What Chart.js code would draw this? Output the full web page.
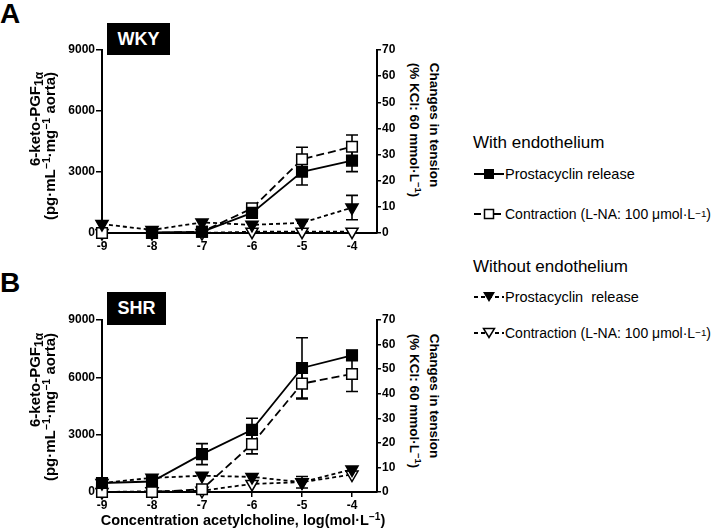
<!DOCTYPE html>
<html>
<head>
<meta charset="utf-8">
<script src="https://cdn.jsdelivr.net/npm/chart.js@4/dist/chart.umd.min.js"></script>
<style>
  body { margin: 0; background: #fff; width: 717px; height: 532px; position: relative; overflow: hidden;
         font-family: "Liberation Sans", Arial, sans-serif; color: #000; }
  canvas { position: absolute; }
  .abs { position: absolute; white-space: nowrap; }
  .letter { font-size: 28px; font-weight: bold; }
  .tag { background: #000; color: #fff; font-weight: bold; font-size: 18px; text-align: center; }
  .ytitle { font-weight: bold; font-size: 15px; line-height: 15px; text-align: right;
            transform: translate(-50%, -50%) rotate(-90deg); }
  .ytitle sub { font-size: 0.8em; }
  .y2title { font-weight: bold; font-size: 13.5px; line-height: 20px; text-align: left;
             transform: translate(-50%, -50%) rotate(90deg); }
  .xtitle { font-weight: bold; font-size: 14.5px; transform: translate(-50%, -50%); }
  sup { font-size: 0.7em; vertical-align: 0.5em; line-height: 0; }
  sub { font-size: 0.7em; vertical-align: -0.25em; line-height: 0; }
  .lghead { font-size: 17px; transform: translateY(-50%); }
  .lgitem { font-size: 14.5px; transform: translateY(-50%); display: flex; align-items: center; }
  .lgitem.small { font-size: 14px; }
  .lgitem svg { margin-right: 1px; }
</style>
</head>
<body>

<div class="abs letter" style="left:0px; top:-2px;">A</div>
<div class="abs letter" style="left:0px; top:267px;">B</div>
<div class="abs tag" style="left:107px; top:23px; width:63px; height:32px; line-height:32px;">WKY</div>
<div class="abs tag" style="left:107px; top:292px; width:59px; height:33px; line-height:33px;">SHR</div>

<canvas id="chartA" width="402" height="226" style="left:0px; top:30px;"></canvas>
<canvas id="chartB" width="402" height="215" style="left:0px; top:300px;"></canvas>

<div class="abs ytitle" style="left:42px; top:146px;">6-keto-PGF<sub>1α</sub><br>(pg·mL<sup>−1</sup>·mg<sup>−1</sup> aorta)</div>
<div class="abs ytitle" style="left:42px; top:407px;">6-keto-PGF<sub>1α</sub><br>(pg·mL<sup>−1</sup>·mg<sup>−1</sup> aorta)</div>
<div class="abs y2title" style="left:424px; top:130px;">Changes in tension<br>(% KCl: 60 mmol·L<sup>−1</sup>)</div>
<div class="abs y2title" style="left:424px; top:401px;">Changes in tension<br>(% KCl: 60 mmol·L<sup>−1</sup>)</div>
<div class="abs xtitle" style="left:243px; top:520px;">Concentration acetylcholine, log(mol·L<sup>−1</sup>)</div>

<div class="abs lghead" style="left:473px; top:143px;">With endothelium</div>
<div class="abs lgitem" style="left:474px; top:174px;">
  <svg width="30" height="14"><line x1="0" y1="7" x2="30" y2="7" stroke="#000" stroke-width="2"/><rect x="10" y="2" width="10" height="10" fill="#000"/></svg>Prostacyclin release</div>
<div class="abs lgitem small" style="left:474px; top:214px;">
  <svg width="30" height="14"><line x1="0" y1="7" x2="30" y2="7" stroke="#000" stroke-width="2" stroke-dasharray="7,3"/><rect x="10.5" y="2.5" width="9" height="9" fill="#fff" stroke="#000" stroke-width="1.5"/></svg>Contraction (L-NA: 100 μmol·L<sup>−1</sup>)</div>
<div class="abs lghead" style="left:473px; top:267px;">Without endothelium</div>
<div class="abs lgitem" style="left:474px; top:297px;">
  <svg width="30" height="14"><line x1="0" y1="7" x2="30" y2="7" stroke="#000" stroke-width="2" stroke-dasharray="4,3"/><polygon points="9,2 21,2 15,12" fill="#000"/></svg><span style="white-space:pre">Prostacyclin  release</span></div>
<div class="abs lgitem small" style="left:474px; top:333px;">
  <svg width="30" height="14"><line x1="0" y1="7" x2="30" y2="7" stroke="#000" stroke-width="2" stroke-dasharray="4,3"/><polygon points="9.5,2.5 20.5,2.5 15,11.5" fill="#fff" stroke="#000" stroke-width="1.5"/></svg>Contraction (L-NA: 100 μmol·L<sup>−1</sup>)</div>

<script>
// ===== 아세틸콜린 농도-반응 (WKY / SHR) =====

const concentrations = [-9, -8, -7, -6, -5, -4];
const xTicks = [-9, -8, -7, -6, -5, -4];
const leftTicks = [0, 3000, 6000, 9000];
const rightTicks = [0, 10, 20, 30, 40, 50, 60, 70];

// WKY (A)
const wkyReleaseEndo = [null, 30, 60, 990, 3010, 3560];
const wkyReleaseEndoErr = [null, null, null, null, 650, 540];
const wkyContractEndo = [0, 0, 0.5, 9.4, 28.2, 33.0];
const wkyContractEndoErr = [null, null, null, null, 4.6, 4.5];
const wkyReleaseNoEndo = [440, 150, 520, 400, 500, 1250];
const wkyReleaseNoEndoErr = [null, null, null, null, null, 600];
const wkyContractNoEndo = [0, 0, 0, 0.5, 0.5, 0.5];

// SHR (B)
const shrReleaseEndo = [470, 550, 1980, 3250, 6490, 7150];
const shrReleaseEndoErr = [null, null, 550, 610, 1580, 250];
const shrContractEndo = [0, 0, 1.1, 19.5, 44.1, 48.0];
const shrContractEndoErr = [null, null, null, 4, 6.2, 7.1];
const shrReleaseNoEndo = [470, 740, 850, 790, 510, 1180];
const shrReleaseNoEndoErr = [null, null, null, null, 300, null];
const shrContractNoEndo = [0, 0.3, 0.5, 3.3, 4.0, 7.1];

const FONT = "'Liberation Sans', Arial, sans-serif";

// 에러바 (마커 아래에 그림)
const errorBars = {
  id: "errorBars",
  beforeDatasetsDraw(chart) {
    const ctx = chart.ctx;
    chart.data.datasets.forEach((ds, di) => {
      if (!ds.errors) return;
      const meta = chart.getDatasetMeta(di);
      const ys = chart.scales[ds.yAxisID];
      ds.errors.forEach((e, i) => {
        if (e == null || ds.data[i].y == null) return;
        const pt = meta.data[i];
        const v = ds.data[i].y;
        const top = ys.getPixelForValue(v + e);
        const bot = ys.getPixelForValue(v - e);
        ctx.save();
        ctx.strokeStyle = "#000";
        ctx.lineWidth = 1.6;
        ctx.beginPath();
        ctx.moveTo(pt.x, top); ctx.lineTo(pt.x, bot);
        ctx.moveTo(pt.x - 6, top); ctx.lineTo(pt.x + 6, top);
        ctx.moveTo(pt.x - 6, bot); ctx.lineTo(pt.x + 6, bot);
        ctx.stroke();
        ctx.restore();
      });
    });
  },
};

function pts(vals) {
  return concentrations.map((x, i) => ({ x, y: vals[i] }));
}

function series(vals, errs, axis, style) {
  const base = {
    data: pts(vals),
    errors: errs,
    yAxisID: axis,
    borderColor: "#000",
    borderWidth: 1.8,
    pointBorderColor: "#000",
    pointBorderWidth: 1.5,
    tension: 0,
    clip: false,
  };
  if (style === "fsq") Object.assign(base, { pointStyle: "rect", pointRadius: 7.5, pointBackgroundColor: "#000", borderDash: [] });
  if (style === "osq") Object.assign(base, { pointStyle: "rect", pointRadius: 7.5, pointBackgroundColor: "#fff", borderDash: [8, 4] });
  if (style === "ftri") Object.assign(base, { pointStyle: "triangle", rotation: 180, pointRadius: 7, pointBackgroundColor: "#000", borderDash: [4, 3] });
  if (style === "otri") Object.assign(base, { pointStyle: "triangle", rotation: 180, pointRadius: 7, pointBackgroundColor: "#fff", borderDash: [4, 3] });
  return base;
}

const tickFont = { family: FONT, size: 12, weight: "bold" };

function makePanel(id, relE, relEErr, conE, conEErr, relN, relNErr, conN) {
  const canvas = document.getElementById(id);
  return new Chart(canvas, {
    type: "line",
    data: {
      datasets: [
        series(relE, relEErr, "y", "fsq"),
        series(relN, relNErr, "y", "ftri"),
        series(conE, conEErr, "y1", "osq"),
        series(conN, null, "y1", "otri"),
      ],
    },
    options: {
      responsive: false,
      animation: false,
      devicePixelRatio: 1,
      layout: { padding: { top: 20, left: 0, right: 0, bottom: 0 } },
      plugins: { legend: { display: false }, tooltip: { enabled: false } },
      scales: {
        x: {
          type: "linear", min: -9, max: -3.5, z: 1,
          afterBuildTicks: (s) => { s.ticks = xTicks.map((v) => ({ value: v })); },
          afterFit: (s) => { s.height = 23; },
          ticks: { font: tickFont, color: "#000", padding: 1, autoSkip: false, maxRotation: 0, callback: (v) => String(v) },
          grid: { drawOnChartArea: false, drawTicks: true, tickLength: 5, color: "#000", lineWidth: 1.5 },
          border: { color: "#000", width: 2 },
        },
        y: {
          type: "linear", position: "left", min: 0, max: 9000, z: 1,
          afterBuildTicks: (s) => { s.ticks = leftTicks.map((v) => ({ value: v })); },
          afterFit: (s) => { s.width = 102; },
          ticks: { font: tickFont, color: "#000", padding: 1, callback: (v) => String(v) },
          grid: { drawOnChartArea: false, drawTicks: true, tickLength: 6, color: "#000", lineWidth: 1.5 },
          border: { color: "#000", width: 2 },
        },
        y1: {
          type: "linear", position: "right", min: 0, max: 70, z: 1,
          afterBuildTicks: (s) => { s.ticks = rightTicks.map((v) => ({ value: v })); },
          afterFit: (s) => { s.width = 25; },
          ticks: { font: tickFont, color: "#000", padding: 1, callback: (v) => String(v) },
          grid: { drawOnChartArea: false, drawTicks: true, tickLength: 4, color: "#000", lineWidth: 1.5 },
          border: { color: "#000", width: 2 },
        },
      },
    },
    plugins: [errorBars],
  });
}

makePanel("chartA", wkyReleaseEndo, wkyReleaseEndoErr, wkyContractEndo, wkyContractEndoErr,
  wkyReleaseNoEndo, wkyReleaseNoEndoErr, wkyContractNoEndo);
makePanel("chartB", shrReleaseEndo, shrReleaseEndoErr, shrContractEndo, shrContractEndoErr,
  shrReleaseNoEndo, shrReleaseNoEndoErr, shrContractNoEndo);
</script>
</body>
</html>
